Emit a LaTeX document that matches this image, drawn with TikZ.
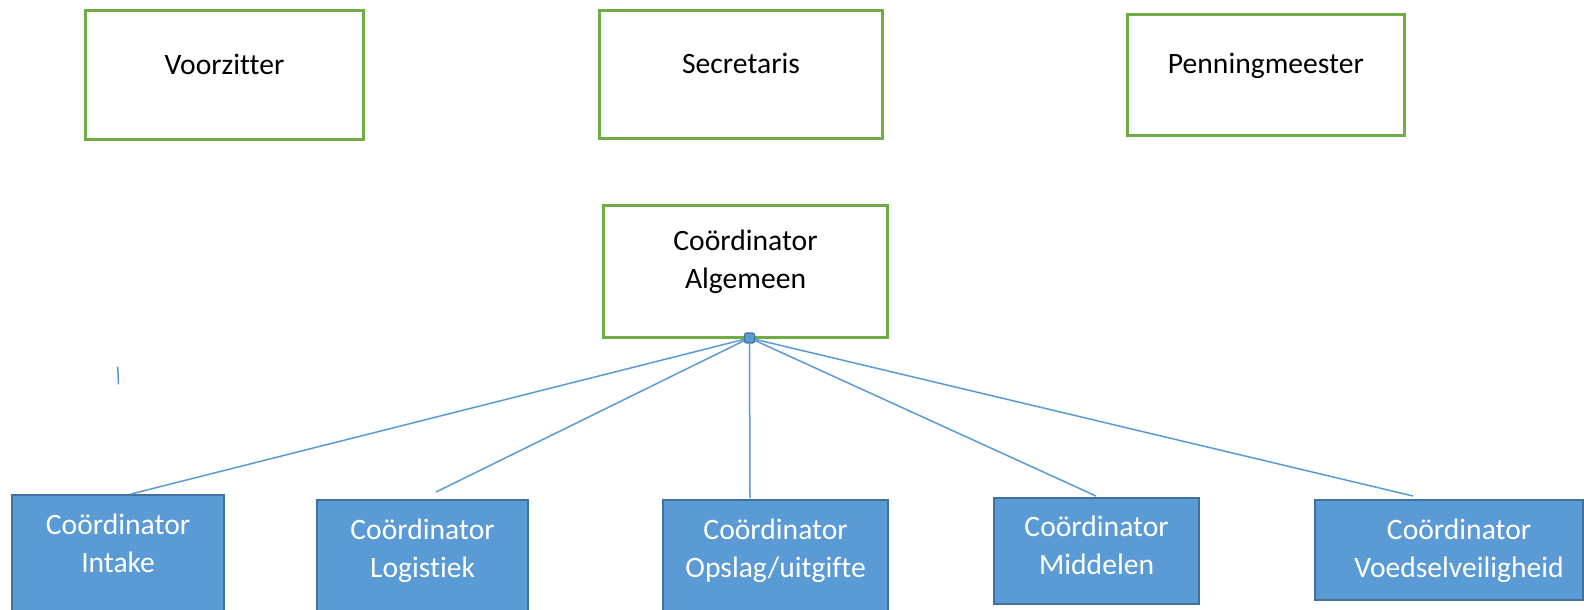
\documentclass[tikz,border=0pt]{standalone}
\usepackage{fontspec}
\setmainfont{Carlito}[Ligatures=NoCommon]
\usepackage{tikz}
\usetikzlibrary{positioning,calc}

\definecolor{boardgreen}{HTML}{70AD47}
\definecolor{coordblue}{HTML}{5B9BD5}
\definecolor{coordedge}{HTML}{41719C}
\newcommand{\twolines}[2]{\begin{tabular}[t]{@{}c@{}}#1\\#2\end{tabular}}

\begin{document}
\begin{tikzpicture}[x=0.5pt, y=-0.5pt,
  every node/.style={font=\fontsize{14.8}{19}\selectfont},
  board/.style={draw=boardgreen, line width=1.5pt, fill=white, anchor=north west, inner sep=0pt},
  coord/.style={draw=coordedge, line width=1.1pt, fill=coordblue, text=white, anchor=north west, inner sep=0pt},
  link/.style={draw=coordblue, line width=0.75pt}]
\useasboundingbox (0,0) rectangle (1584,610);
\fill[white] (0,0) rectangle (1584,610);

% Bestuur
\node (voorzitter) [board, minimum width=139pt, text height=31.85pt, text depth=32.65pt] at (84,9) {Voorzitter};
\node (secretaris) [board, minimum width=141.5pt, text height=31.75pt, text depth=32.25pt] at (598,9) {Secretaris};
\node (penning) [board, minimum width=138.65pt, text height=29.2pt, text depth=31.15pt] at (1125.7,13.3) {Penningmeester};

% Coordinator algemeen
\node (algemeen) [board, minimum width=142pt, text height=22.5pt, text depth=43.2pt] at (602,204.3) {\twolines{Coördinator}{Algemeen}};
\node (hub) [draw=coordedge, fill=coordblue, minimum size=5pt, inner sep=0pt, rounded corners=1pt, line width=0.6pt] at (749.5,338) {};

% Coordinatoren
\node (intake) [coord, minimum width=106pt, text height=19.65pt, text depth=41.35pt] at (11,494) {\twolines{Coördinator}{Intake}};
\node (logistiek) [coord, minimum width=105.5pt, text height=19.75pt, text depth=38.75pt] at (316,499) {\twolines{Coördinator}{Logistiek}};
\node (opslag) [coord, minimum width=112.5pt, text height=19.75pt, text depth=38.75pt] at (662,499) {\twolines{Coördinator}{Opslag/uitgifte}};
\node (middelen) [coord, minimum width=102.5pt, text height=19.2pt, text depth=33.8pt] at (993,497) {\twolines{Coördinator}{Middelen}};
\node (voedsel) [coord, minimum width=134pt, text height=19.65pt, text depth=30.35pt] at (1314,499) {\twolines{\hspace*{10pt}Coördinator}{\hspace*{10pt}Voedselveiligheid}};

% Verbindingen
\coordinate (intaketop) at ($(intake.north west)+(120,0)$);
\coordinate (logistiektop) at ($(logistiek.north west)+(120,-7)$);
\coordinate (opslagtop) at ($(opslag.north west)+(88,-1)$);
\coordinate (middelentop) at ($(middelen.north west)+(103,-1)$);
\coordinate (voedseltop) at ($(voedsel.north west)+(99,-3)$);
\draw[link] (hub) -- (intaketop);
\draw[link] (hub) -- (logistiektop);
\draw[link] (hub) -- (opslagtop);
\draw[link] (hub) -- (middelentop);
\draw[link] (hub) -- (voedseltop);

% losse streep
\coordinate (strayA) at (117.7,366.7);
\coordinate (strayB) at (118.5,384.3);
\draw[link] (strayA) -- (strayB);

\end{tikzpicture}
\end{document}
